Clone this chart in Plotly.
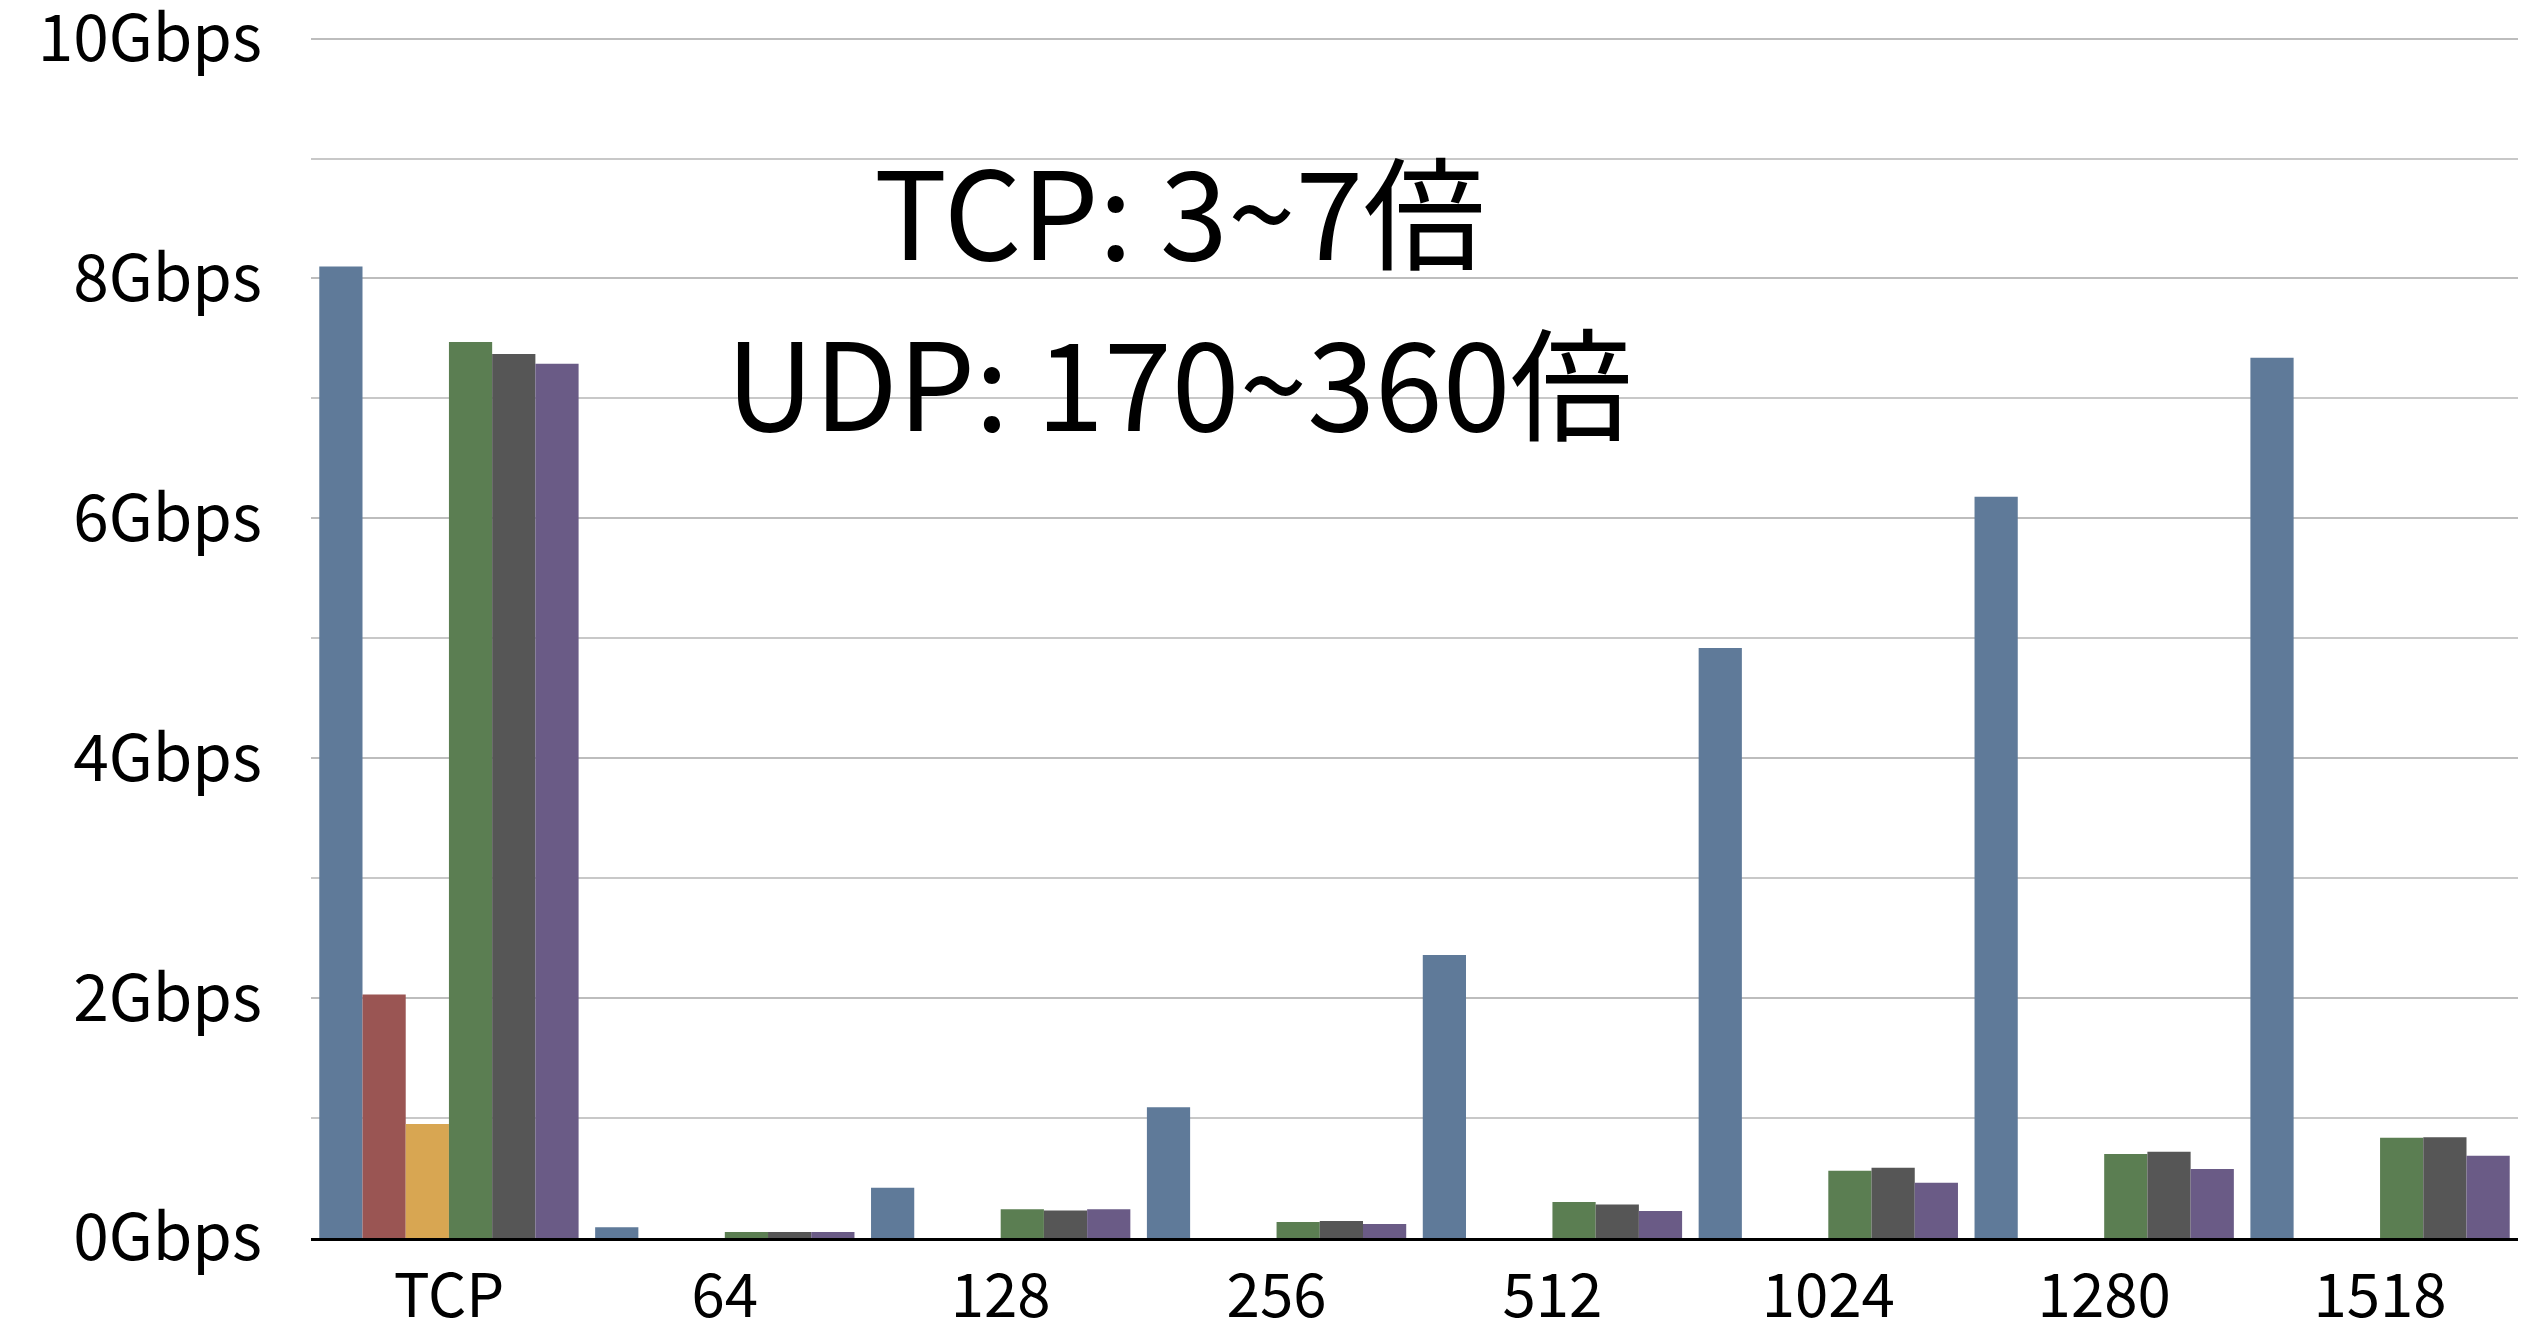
import plotly.graph_objects as go

categories = ["TCP", "64", "128", "256", "512", "1024", "1280", "1518"]

series_blue = [8.10, 0.09, 0.42, 1.09, 2.36, 4.92, 6.18, 7.34]
series_red = [2.03, None, None, None, None, None, None, None]
series_yellow = [0.95, None, None, None, None, None, None, None]
series_green = [7.47, 0.05, 0.24, 0.134, 0.30, 0.56, 0.70, 0.835]
series_gray = [7.37, 0.05, 0.23, 0.142, 0.28, 0.585, 0.72, 0.84]
series_purple = [7.29, 0.05, 0.24, 0.117, 0.225, 0.46, 0.576, 0.685]

y_tick_values = [0, 2, 4, 6, 8, 10]
y_tick_labels = ["0Gbps", "2Gbps", "4Gbps", "6Gbps", "8Gbps", "10Gbps"]

annotation_lines = ["TCP: 3~7倍", "UDP: 170~360倍"]

colors = ["#5f7a99", "#9a5553", "#d8a652", "#5b7e52", "#565656", "#6a5b86"]
all_series = [series_blue, series_red, series_yellow, series_green, series_gray, series_purple]
names = ["s1", "s2", "s3", "s4", "s5", "s6"]

FONT = "Noto Sans CJK JP, Noto Sans, sans-serif"

# page has an 8px body margin; work in figure coordinates
OFF = 8
W, H = 2539 - OFF, 1330 - OFF
TOP, BOTTOM, LEFT, RIGHT = 35 - OFF, 1238 - OFF, 311 - OFF, 2518 - OFF

fig = go.Figure()
for name, vals, col in zip(names, all_series, colors):
    fig.add_trace(go.Bar(x=categories, y=vals, name=name, marker=dict(color=col, line=dict(width=0))))

fig.update_layout(
    width=W, height=H,
    barmode="group", bargap=0.06, bargroupgap=0,
    showlegend=False,
    plot_bgcolor="white", paper_bgcolor="white",
    margin=dict(l=LEFT, r=W - RIGHT, t=TOP, b=H - BOTTOM),
    font=dict(family=FONT, color="black"),
)
fig.update_yaxes(
    range=[0, 10.03], automargin=False,
    tickvals=y_tick_values, ticktext=y_tick_labels,
    tickfont=dict(size=64, family=FONT, color="black"),
    showgrid=True, gridcolor="#bdbdbd", gridwidth=2,
    minor=dict(dtick=1, showgrid=True, gridcolor="#c8c8c8", gridwidth=2),
    zeroline=False, showline=False,
    ticks="", ticklabelstandoff=48, ticklabeloverflow="allow",
)
fig.update_xaxes(
    automargin=False,
    tickfont=dict(size=60, family=FONT, color="black"),
    showline=True, linecolor="black", linewidth=3,
    ticks="", ticklabelstandoff=4, ticklabeloverflow="allow",
    showgrid=False,
)

for line, ypix in zip(annotation_lines, [206 - OFF, 378 - OFF]):
    fig.add_annotation(text=line, xref="paper", yref="paper",
                       x=(1179 - OFF - LEFT) / (RIGHT - LEFT), y=(BOTTOM - ypix) / (BOTTOM - TOP),
                       showarrow=False, font=dict(size=122, family=FONT, color="black"),
                       xanchor="center", yanchor="middle")

fig.write_html("out.html")
